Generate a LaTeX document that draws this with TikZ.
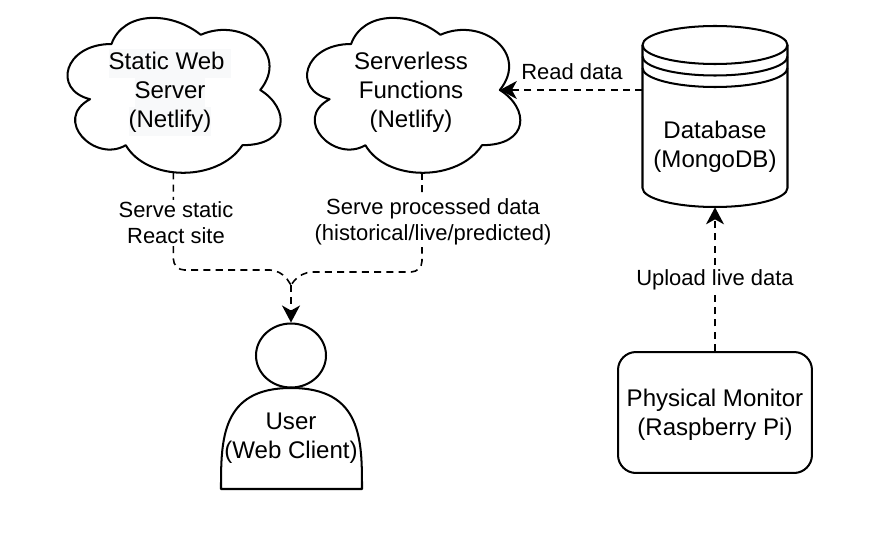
\documentclass[tikz,border=0pt]{standalone}
\usepackage{fontspec}
\setmainfont{Liberation Sans}
\usetikzlibrary{arrows.meta,shapes.geometric}
\definecolor{pagehl}{HTML}{F8F9FA}
\newcommand{\hlline}[1]{\colorbox{pagehl}{\strut #1}}
\setlength{\fboxsep}{0pt}
\tikzset{
  boxtext/.style={align=center, inner sep=0pt, font=\fontsize{13.7}{16.4}\selectfont},
  linktext/.style={align=center, inner sep=1pt, fill=white, font=\fontsize{12.5}{14.7}\selectfont},
  shape line/.style={line width=1.15pt, line join=round},
  link/.style={line width=0.9pt, dash pattern=on 4pt off 3pt},
  pics/webcloud/.style={code={
    \begin{scope}[xscale=238,yscale=184]
    \draw[shape line] (.25,.25) .. controls (.05,.25) and (0,.5) .. (.16,.55)
      .. controls (0,.66) and (.18,.9) .. (.31,.8)
      .. controls (.4,1) and (.7,1) .. (.8,.8)
      .. controls (1,.8) and (1,.6) .. (.875,.5)
      .. controls (1,.3) and (.8,.1) .. (.625,.2)
      .. controls (.5,.07) and (.3,.07) .. (.25,.25) -- cycle;
    \coordinate (-south) at (.51,.947);
    \coordinate (-foot) at (.548,.95);
    \coordinate (-cusp) at (.875,.5);
    \end{scope}
  }}
}
\begin{document}
\begin{tikzpicture}[x=0.02cm,y=-0.02cm,>={Stealth[length=3.4mm,width=3.6mm,inset=1mm]}]
\useasboundingbox (0,0) rectangle (880,554);

\pic (staticsrv) at (52,-2) {webcloud};
\pic (funcsrv) at (291.6,-2) {webcloud};
\node[boxtext] (statictext) at (170,92.5) {\hlline{Static Web\ }\\\hlline{Server}\\\hlline{(Netlify)}};
\node[boxtext] (functext) at (411,92.5) {Serverless\\Functions\\(Netlify)};

\draw[shape line] (642.5,45) arc[start angle=180, end angle=-180, x radius=72.5, y radius=19];
\draw[shape line] (642.5,56.5) arc[start angle=180, end angle=0, x radius=72.5, y radius=19];
\draw[shape line] (642.5,68) arc[start angle=180, end angle=0, x radius=72.5, y radius=19];
\draw[shape line] (642.5,45) -- (642.5,188) arc[start angle=180, end angle=0, x radius=72.5, y radius=19] -- (787.5,45);
\node[minimum width=2.9cm, minimum height=3.62cm, inner sep=0pt] (dbase) at (715,116.5) {};
\node[boxtext] (dbtext) at (715,147) {Database\\(MongoDB)};

\node[draw, shape line, rectangle, rounded corners=0.36cm, minimum width=3.88cm, minimum height=2.42cm, inner sep=0pt] (monitor) at (715,412.5) {};
\node[boxtext] (monitortext) at (715,414.5) {Physical Monitor\\(Raspberry Pi)};

\node[draw, shape line, ellipse, minimum width=1.4cm, minimum height=1.28cm, inner sep=0pt] (userhead) at (291,355.5) {};
\draw[shape line] (221,489) .. controls (221,440) and (221,388) .. (291,388)
  .. controls (362,388) and (362,440) .. (362,489) -- cycle;
\node[boxtext] (usertext) at (291,438) {User\\(Web Client)};

\coordinate (joinl) at (281,270);
\coordinate (joinr) at (301,272);
\coordinate (merge) at (291,285);
\draw[link, rounded corners=0.22cm] (staticsrv-south) |- (joinl) -- (merge);
\draw[link, rounded corners=0.22cm] (funcsrv-foot) |- (joinr) -- (merge);
\draw[link, ->] (merge) -- (userhead.north);
\draw[link, ->] (dbase.west |- funcsrv-cusp) -- (funcsrv-cusp);
\draw[link, ->] (monitor.north) -- (dbase.south);

\node[linktext] (sitelabel) at (176,222.5) {Serve static\\React site};
\node[linktext] (datalabel) at (433,222) {Serve processed data\\(historical/live/predicted)};
\node[linktext] (readlabel) at (572,72) {Read data};
\node[linktext] (uploadlabel) at (715,280) {Upload live data};
\end{tikzpicture}
\end{document}
